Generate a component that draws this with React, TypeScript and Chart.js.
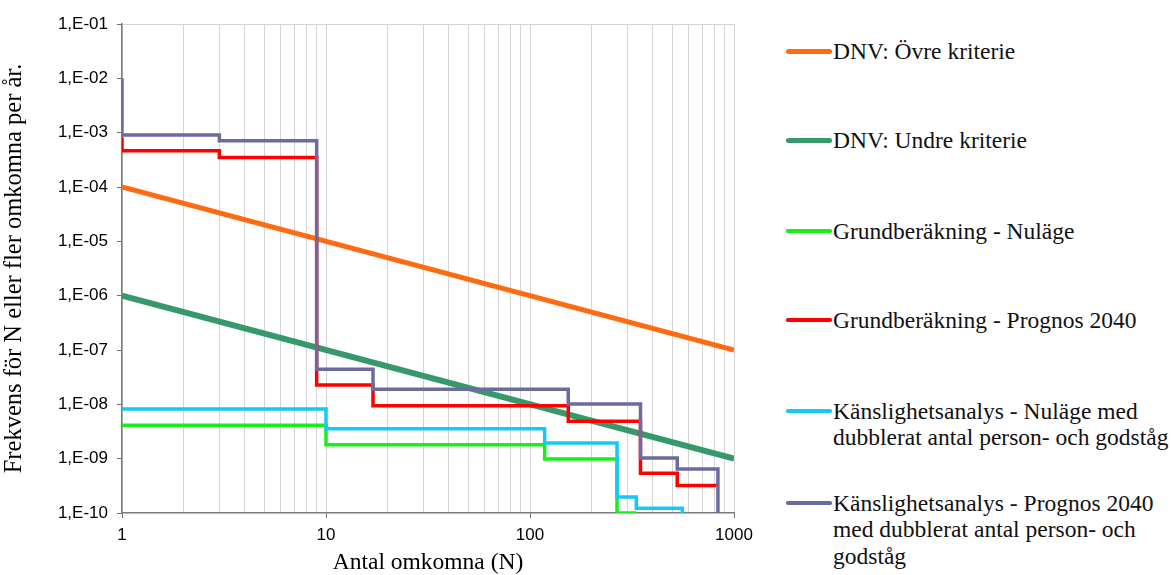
import React, { useEffect, useRef } from "react";
import { Chart, registerables } from "chart.js";

Chart.register(...registerables);

// F/N curves: number of fatalities N (breakpoints) and frequency of N or more per year
const dnvUpperN = [1, 1000];
const dnvUpperF = [1e-4, 1e-7];

const dnvLowerN = [1, 1000];
const dnvLowerF = [1e-6, 1e-9];

const baseNowN = [1, 10, 118, 267, 332];
const baseNowF = [4.1e-9, 1.8e-9, 9.9e-10, 1e-10, 1e-10];

const base2040N = [1, 1, 3, 9, 17, 154, 348, 527, 830];
const base2040F = [8.2e-4, 4.66e-4, 3.5e-4, 2.27e-8, 9.4e-9, 4.9e-9, 5.4e-10, 3.2e-10, 3.2e-10];

const sensNowN = [1, 10, 118, 267, 332, 558];
const sensNowF = [8.2e-9, 3.56e-9, 1.94e-9, 1.97e-10, 1.22e-10, 1e-10];

const sens2040N = [1, 1, 3, 9, 17, 154, 348, 527, 834];
const sens2040F = [1e-2, 9.1e-4, 7.1e-4, 4.4e-8, 1.9e-8, 1.01e-8, 1.03e-9, 6.45e-10, 1e-10];

// Axis tick labels
const yTickValues = [1e-1, 1e-2, 1e-3, 1e-4, 1e-5, 1e-6, 1e-7, 1e-8, 1e-9, 1e-10];
const yTickLabels = ["1,E-01", "1,E-02", "1,E-03", "1,E-04", "1,E-05", "1,E-06", "1,E-07", "1,E-08", "1,E-09", "1,E-10"];
const xMajorValues = [1, 10, 100, 1000];
const xTickLabels = ["1", "10", "100", "1000"];

const seriesLabels = [
  "DNV: Övre kriterie",
  "DNV: Undre kriterie",
  "Grundberäkning - Nuläge",
  "Grundberäkning - Prognos 2040",
  "Känslighetsanalys - Nuläge med dubblerat antal person- och godståg",
  "Känslighetsanalys - Prognos 2040 med dubblerat antal person- och godståg",
];

const ORANGE = "#FF6A13";
const DKGREEN = "#36996A";
const GREEN = "#18EE18";
const RED = "#FF0000";
const CYAN = "#14C8F8";
const PURPLE = "#6B6B9E";

const SERIF = "'Liberation Serif', 'Times New Roman', serif";
const SANS = "'Liberation Sans', Arial, sans-serif";

const pts = (n: number[], f: number[]) => n.map((x, i) => ({ x, y: f[i] }));

const legendItems = [
  { color: ORANGE, w: 5, lines: ["DNV: Övre kriterie"], y: 51 },
  { color: DKGREEN, w: 5, lines: ["DNV: Undre kriterie"], y: 140 },
  { color: GREEN, w: 3.5, lines: ["Grundberäkning - Nuläge"], y: 231 },
  { color: RED, w: 3.5, lines: ["Grundberäkning - Prognos 2040"], y: 320 },
  { color: CYAN, w: 3.5, lines: ["Känslighetsanalys - Nuläge med", "dubblerat antal person- och godståg"], y: 411 },
  { color: PURPLE, w: 3.5, lines: ["Känslighetsanalys - Prognos 2040", "med dubblerat antal person- och", "godståg"], y: 503 },
];

export default function App() {
  const ref = useRef<HTMLCanvasElement | null>(null);

  useEffect(() => {
    if (!ref.current) return;
    const stepLine = (label: string, data: any[], color: string, order: number) => ({
      label,
      data,
      borderColor: color,
      backgroundColor: color,
      borderWidth: 3.5,
      pointRadius: 0,
      stepped: "before" as const,
      fill: false,
      order,
    });

    const chart = new Chart(ref.current, {
      type: "line",
      data: {
        datasets: [
          {
            label: seriesLabels[0],
            data: pts(dnvUpperN, dnvUpperF),
            borderColor: ORANGE,
            borderWidth: 5,
            pointRadius: 0,
            fill: false,
            order: 10,
          },
          {
            label: seriesLabels[1],
            data: pts(dnvLowerN, dnvLowerF),
            borderColor: DKGREEN,
            borderWidth: 6,
            pointRadius: 0,
            fill: false,
            order: 9,
          },
          stepLine(seriesLabels[2], pts(baseNowN, baseNowF), GREEN, 4),
          stepLine(seriesLabels[3], pts(base2040N, base2040F), RED, 3),
          stepLine(seriesLabels[4], pts(sensNowN, sensNowF), CYAN, 2),
          stepLine(seriesLabels[5], pts(sens2040N, sens2040F), PURPLE, 1),
        ],
      },
      options: {
        animation: false,
        responsive: false,
        maintainAspectRatio: false,
        layout: { padding: { left: 0, top: 24, right: 26, bottom: 0 } },
        plugins: { legend: { display: false }, tooltip: { enabled: false } },
        scales: {
          x: {
            type: "logarithmic",
            min: 1,
            max: 1000,
            afterBuildTicks: (scale: any) => {
              const t: any[] = [];
              for (let d = 1; d < 1000; d *= 10) {
                for (let k = 1; k < 10; k++) t.push({ value: d * k, major: k === 1 });
              }
              t.push({ value: 1000, major: true });
              scale.ticks = t;
            },
            afterFit: (scale: any) => {
              scale.height = 62;
            },
            ticks: {
              autoSkip: false,
              maxRotation: 0,
              padding: 7,
              color: "#000",
              font: { family: SANS, size: 17 },
              callback: (v: any) => {
                const i = xMajorValues.indexOf(Number(v));
                return i >= 0 ? xTickLabels[i] : "";
              },
            },
            grid: {
              color: "#D4D4D4",
              lineWidth: 1,
              tickLength: 5,
              tickColor: (ctx: any) =>
                ctx.tick && xMajorValues.indexOf(ctx.tick.value) >= 0 ? "#707070" : "rgba(0,0,0,0)",
            },
            border: { color: "#7A7A7A", width: 1.5 },
            title: {
              display: true,
              text: "Antal omkomna (N)",
              color: "#000",
              font: { family: SERIF, size: 23.5, lineHeight: 1 },
              padding: { top: 0, bottom: 0 },
            },
          },
          y: {
            type: "logarithmic",
            min: 1e-10,
            max: 1e-1,
            afterBuildTicks: (scale: any) => {
              scale.ticks = yTickValues.map((v) => ({ value: v, major: true }));
            },
            afterFit: (scale: any) => {
              scale.width = 122;
            },
            ticks: {
              autoSkip: false,
              padding: 9,
              color: "#000",
              font: { family: SANS, size: 17 },
              callback: (v: any) => {
                const i = yTickValues.findIndex((t) => Math.abs(Math.log10(t) - Math.log10(Number(v))) < 1e-6);
                return i >= 0 ? yTickLabels[i] : "";
              },
            },
            grid: {
              color: (ctx: any) => (ctx.tick && ctx.tick.value >= 0.099 ? "#D4D4D4" : "rgba(0,0,0,0)"),
              lineWidth: 1,
              tickLength: 5,
              tickColor: "#707070",
            },
            border: { color: "#7A7A7A", width: 1.5 },
            title: {
              display: true,
              text: "Frekvens för N eller fler omkomna per år.",
              color: "#000",
              font: { family: SERIF, size: 24.5, lineHeight: 1 },
              padding: { top: 2, bottom: 0 },
            },
          },
        },
      },
    });
    return () => chart.destroy();
  }, []);

  return (
    <div
      style={{
        position: "fixed",
        left: 0,
        top: 0,
        width: 1172,
        height: 575,
        background: "#fff",
        overflow: "hidden",
      }}
    >
      <canvas ref={ref} width={760} height={575} style={{ position: "absolute", left: 0, top: 0 }} />
      {legendItems.map((it, i) => (
        <div
          key={i}
          style={{
            position: "absolute",
            left: 786,
            top: it.y - 13.5,
            display: "flex",
            alignItems: "flex-start",
            fontFamily: SERIF,
            fontSize: 23.5,
            lineHeight: "26.7px",
            color: "#111",
            whiteSpace: "nowrap",
          }}
        >
          <span
            style={{
              display: "inline-block",
              width: 46,
              height: it.w,
              marginTop: 13.5 - it.w / 2,
              background: it.color,
              borderRadius: it.w / 2,
              flex: "0 0 auto",
            }}
          />
          <div style={{ marginLeft: 1 }}>
            {it.lines.map((l, j) => (
              <div key={j}>{l}</div>
            ))}
          </div>
        </div>
      ))}
    </div>
  );
}
